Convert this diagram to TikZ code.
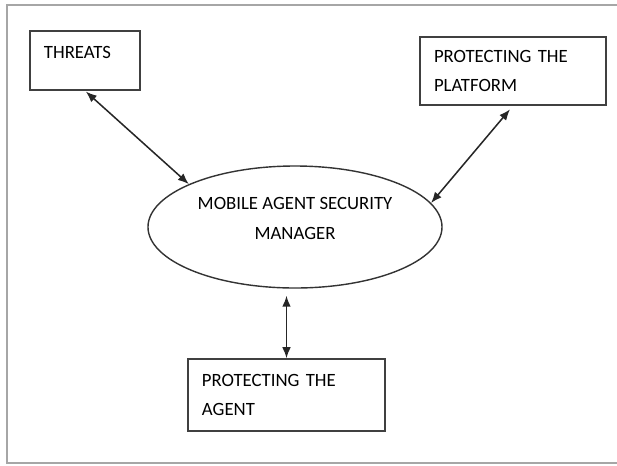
\documentclass[tikz,border=0pt]{standalone}
\usepackage{fontspec}
\setmainfont{Carlito}
\usetikzlibrary{positioning, arrows.meta, shapes}

\tikzset{
  box/.style={rectangle, draw=black!75, line width=1.3pt, align=left, inner xsep=0.42cm, inner ysep=0pt, font=\fontsize{16}{25.5}\selectfont},
  hub/.style={ellipse, draw=black!80, line width=1.2pt, minimum width=8.82cm, minimum height=3.66cm, align=center, font=\fontsize{16}{25.5}\selectfont},
  link/.style={{Latex[length=3.3mm,width=2.6mm]}-{Latex[length=3.3mm,width=2.6mm]}, line width=1.3pt, black!85}
}

\begin{document}
\begin{tikzpicture}[x=0.03cm, y=-0.03cm]
  \useasboundingbox (0,0) rectangle (617,465);
  % page frame
  \draw[gray!70, line width=1.2pt] (620,5) -- (7,5) -- (7,463) -- (620,463);

  \node[hub, text depth=15pt] (manager) at (295,227) {MOBILE AGENT SECURITY\\MANAGER};
  \node[box, text width=2.46cm, minimum height=1.77cm, text depth=0.5cm] (threats) at (85,60.5) {THREATS};
  \node[box, text width=4.74cm, minimum height=2.04cm] (platform) at (513,71) {PROTECTING THE\\PLATFORM};
  \node[box, text width=5.07cm, minimum height=2.16cm] (agent) at (286.5,395) {PROTECTING THE\\AGENT};

  \draw[link, shorten <=1pt] (threats.south) -- (manager.158);
  \draw[link, shorten <=4pt] (platform.south) -- (manager.10);
  \draw[link, shorten >=6pt] (agent.north) -- (agent.north |- manager.south);
\end{tikzpicture}
\end{document}
